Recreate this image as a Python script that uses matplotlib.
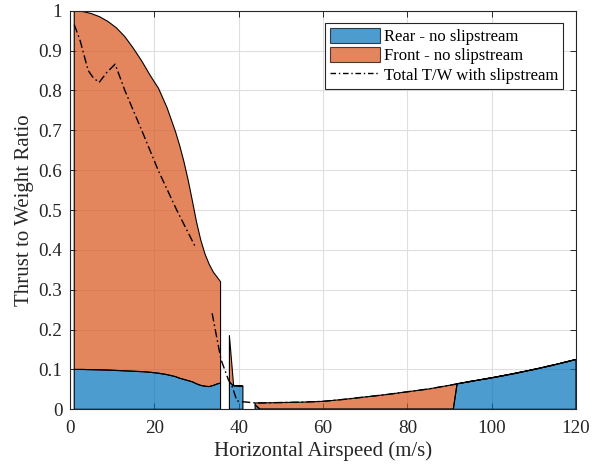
import numpy as np
import matplotlib
matplotlib.use("Agg")
import matplotlib.pyplot as plt
from matplotlib.patches import Patch
from matplotlib.lines import Line2D

# ---------------- data ----------------
nan = np.nan
# airspeed samples for the stacked areas (NaN separates the three blocks)
speed = [1, 3, 5, 7, 9, 11, 13, 15, 17, 19, 21, 23, 25, 26, 27, 28, 29, 30,
         31, 32, 33, 34, 35, 35.7,
         nan,
         37.8, 38.8, 41.0,
         nan,
         43.9, 45.1, 50, 55, 60, 65, 70, 75, 80, 85, 90.9, 91.8, 95, 100,
         105, 110, 115, 120]
# rear rotor thrust-to-weight (no slipstream)
rear = [0.100, 0.100, 0.0995, 0.099, 0.0985, 0.0975, 0.0965, 0.0955, 0.0945,
        0.093, 0.0905, 0.087, 0.082, 0.078, 0.075, 0.072, 0.069, 0.064,
        0.060, 0.058, 0.057, 0.060, 0.064, 0.066,
        nan,
        0.068, 0.059, 0.058,
        nan,
        0.011, 0.0, 0.0, 0.0, 0.0, 0.0, 0.0, 0.0, 0.0, 0.0, 0.0, 0.064, 0.070,
        0.079, 0.089, 0.100, 0.112, 0.125]
# total (rear + front) thrust-to-weight (no slipstream)
total = [1.000, 0.998, 0.993, 0.985, 0.973, 0.957, 0.935, 0.906, 0.874,
         0.838, 0.805, 0.757, 0.697, 0.662, 0.622, 0.576, 0.524, 0.470,
         0.425, 0.390, 0.364, 0.344, 0.330, 0.320,
         nan,
         0.185, 0.060, 0.058,
         nan,
         0.016, 0.016, 0.017, 0.018, 0.020, 0.025, 0.031, 0.037, 0.044,
         0.051, 0.062, 0.064, 0.070, 0.079, 0.089, 0.100, 0.112, 0.125]

# total T/W with slipstream (dash-dot line)
slip_speed = [1, 2.4, 4.3, 5.5, 6.9, 8.7, 10.7, 13, 17, 20.9, 25.3, 29.6,
              nan,
              33.7, 35.8, 37.6, 38.3, 39.6, 41.0, 43.9, 45, 50, 55, 60, 65,
              70, 75, 80, 85, 90.9, 91.8, 95, 100, 105, 110, 115, 120]
slip_ratio = [0.965, 0.925, 0.850, 0.832, 0.820, 0.845, 0.866, 0.800,
              0.700, 0.600, 0.500, 0.410,
              nan,
              0.241, 0.125, 0.073, 0.062, 0.021, 0.019, 0.016, 0.016, 0.017,
              0.018, 0.020, 0.025, 0.031, 0.037, 0.044, 0.051, 0.062, 0.064,
              0.070, 0.079, 0.089, 0.100, 0.112, 0.125]

x_ticks = [0, 20, 40, 60, 80, 100, 120]
x_labels = ["0", "20", "40", "60", "80", "100", "120"]
y_ticks = [0, 0.1, 0.2, 0.3, 0.4, 0.5, 0.6, 0.7, 0.8, 0.9, 1.0]
y_labels = ["0", "0.1", "0.2", "0.3", "0.4", "0.5", "0.6", "0.7", "0.8",
            "0.9", "1"]

series_names = ["Rear - no slipstream", "Front - no slipstream",
                "Total T/W with slipstream"]

# ---------------- styling ----------------
plt.rcParams['font.family'] = ['Liberation Serif', 'DejaVu Serif']
BLUE = "#0072BD"
ORANGE = "#D95319"
AXC = "#262626"

fig = plt.figure(figsize=(6.0, 4.68), dpi=100)
ax = fig.add_axes([0.1167, 0.1254, 0.8433, 0.8517])

sp = np.array(speed, dtype=float)
r = np.array(rear, dtype=float)
t = np.array(total, dtype=float)

ax.fill_between(sp, 0, r, facecolor=BLUE, alpha=0.7, edgecolor='none',
                zorder=2)
ax.fill_between(sp, r, t, facecolor=ORANGE, alpha=0.7, edgecolor='none',
                zorder=2)
# black outlines (drawn opaque)
ax.fill_between(sp, 0, r, facecolor='none', edgecolor='black', lw=0.8,
                zorder=3)
ax.fill_between(sp, r, t, facecolor='none', edgecolor='black', lw=0.8,
                zorder=3)

ax.plot(slip_speed, slip_ratio, color='black', lw=1.0,
        dashes=(6, 2.2, 1.2, 2.2), zorder=4)

ax.set_xlim(0, 120)
ax.set_ylim(0, 1)
ax.set_xticks(x_ticks)
ax.set_xticklabels(x_labels)
ax.set_yticks(y_ticks)
ax.set_yticklabels(y_labels)

ax.grid(True, color='#dfdfdf', lw=0.8, zorder=0)
ax.set_axisbelow(True)
for s in ax.spines.values():
    s.set_color(AXC)
    s.set_linewidth(0.8)
    s.set_zorder(5)
ax.tick_params(direction='in', length=4, width=0.7, colors=AXC,
               top=True, right=True, labelsize=13.8)
ax.tick_params(axis='x', pad=8)
ax.tick_params(axis='y', pad=5.5)
for lab in ax.get_xticklabels() + ax.get_yticklabels():
    lab.set_color('#262626')

ax.set_xlabel("Horizontal Airspeed (m/s)", fontsize=15, color='#262626',
              labelpad=3)
ax.set_ylabel("Thrust to Weight Ratio", fontsize=15, color='#262626',
              labelpad=3)

handles = [Patch(facecolor=BLUE, alpha=0.7, edgecolor='black', lw=0.8),
           Patch(facecolor=ORANGE, alpha=0.7, edgecolor='black', lw=0.8),
           Line2D([0], [0], color='black', lw=1.0, dashes=(4, 2, 1, 2))]
leg = ax.legend(handles, series_names, loc='upper right',
                bbox_to_anchor=(0.9745, 0.969), fontsize=12,
                frameon=True, fancybox=False, framealpha=1,
                edgecolor=AXC, borderpad=0.3, labelspacing=0.12,
                handlelength=3.0, handleheight=1.0, handletextpad=0.2,
                borderaxespad=0)
leg.get_frame().set_linewidth(0.8)
for h in leg.legend_handles[:2]:
    h.set_edgecolor('black')

fig.savefig("out.png", dpi=100)
